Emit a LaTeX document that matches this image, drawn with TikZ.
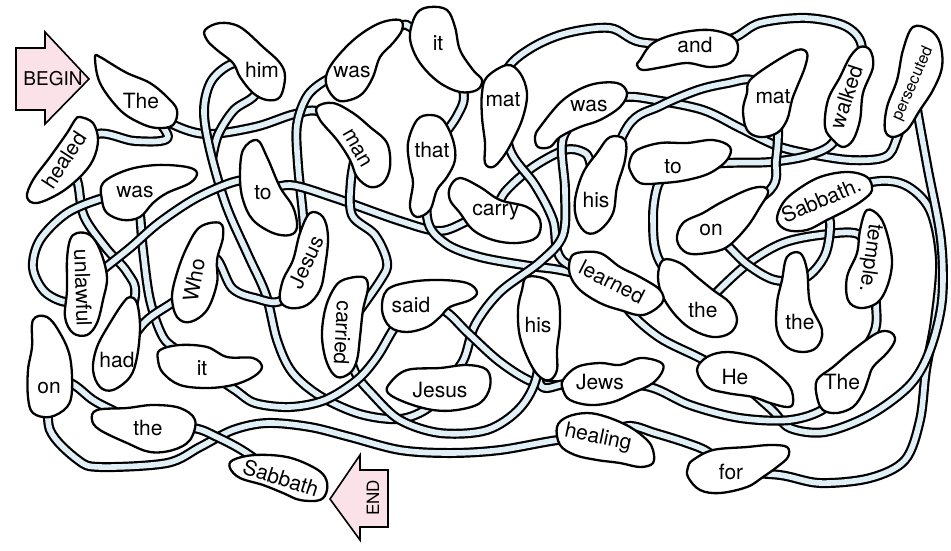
\documentclass[tikz,border=0pt]{standalone}
\usepackage{fontspec}
\setmainfont{TeX Gyre Heros}
\definecolor{tubec}{RGB}{224,240,246}
\definecolor{pinkc}{RGB}{250,226,232}
\pgfdeclarelayer{bgfill}
\pgfdeclarelayer{tubes}
\pgfdeclarelayer{blobs}
\pgfsetlayers{bgfill,tubes,blobs,main}
\tikzset{
  tube/.style={draw=black, line width=10pt, line join=round, postaction={draw=tubec, line width=5.6pt}},
  blob/.style={draw=black, line width=2.3pt, fill=white, line join=round},
  wt/.style={font=\fontsize{21}{24}\selectfont, inner sep=0pt},
  smallwt/.style={font=\fontsize{16}{18}\selectfont, inner sep=0pt},
  arrowbox/.style={draw=black, line width=1.6pt, fill=pinkc, line join=miter},
}
\newcommand{\blobat}[1]{\draw[blob] plot[smooth cycle, tension=0.6] coordinates {#1};}
\newcommand{\tubeat}[1]{\draw[tube] plot[smooth, tension=0.55] coordinates {#1};}
\begin{document}
\begin{tikzpicture}[x=1pt,y=-1pt]
\begin{pgfonlayer}{bgfill}
\fill[white] (0,0) rectangle (951,550);
\end{pgfonlayer}
\useasboundingbox (0,0) rectangle (951,550);

% ---------- word nodes ----------
\node[font=\fontsize{19}{22}\selectfont, inner sep=0pt] (begin) at (53,79) {BEGIN};
\node[font=\fontsize{17}{20}\selectfont, inner sep=0pt, rotate=90] (endw) at (373,498) {END};
\node[wt] (The) at (141,101) {The};
\node[wt] (him) at (262,70) {him};
\node[wt, rotate=57] (healed) at (64,160) {healed};
\node[wt] (wasL) at (135,192) {was};
\node[wt] (toL) at (263,193) {to};
\node[wt, rotate=-88] (unlawful) at (83,288) {unlawful};
\node[wt, rotate=80] (Who) at (194,280) {Who};
\node[wt, rotate=65] (JesusL) at (306,262) {Jesus};
\node[wt] (had) at (117,360) {had};
\node[wt] (onL) at (49,388) {on};
\node[wt] (itL) at (202,368) {it};
\node[wt] (theL) at (148,428) {the};
\node[wt, rotate=-18] (SabbathB) at (281,478) {Sabbath};
\node[wt] (wasT) at (352,72) {was};
\node[wt] (itT) at (438,43) {it};
\node[wt, rotate=-60] (man) at (357,148) {man};
\node[wt] (that) at (432,150) {that};
\node[wt] (matM) at (503,100) {mat};
\node[wt] (wasR) at (589,106) {was};
\node[wt] (carry) at (496,212) {carry};
\node[wt] (hisU) at (596,200) {his};
\node[wt] (and) at (695,45) {and};
\node[wt] (matR) at (773,97) {mat};
\node[wt, rotate=72] (walked) at (846,97) {walked};
\node[smallwt, rotate=66] (persecuted) at (913,84) {persecuted};
\node[wt] (toR) at (673,167) {to};
\node[wt] (onR) at (711,230) {on};
\node[wt, rotate=23] (SabbathR) at (821,200) {Sabbath.};
\node[wt, rotate=-98] (temple) at (870,258) {temple.};
\node[wt] (theR) at (800,322) {the};
\node[wt] (theM) at (703,310) {the};
\node[wt, rotate=-27] (learned) at (612,282) {learned};
\node[wt] (hisL) at (538,325) {his};
\node[wt] (said) at (411,305) {said};
\node[wt, rotate=-93] (carried) at (343,333) {carried};
\node[wt] (JesusB) at (440,390) {Jesus};
\node[wt] (Jews) at (600,382) {Jews};
\node[wt, rotate=-12] (healing) at (598,438) {healing};
\node[wt] (He) at (735,377) {He};
\node[wt] (TheR) at (842,382) {The};
\node[wt] (for) at (731,472) {for};

% ---------- tubes ----------
\begin{pgfonlayer}{tubes}
\tubeat{(healed.center) (97,134) (135,141) (168,137) (The.center)}
\tubeat{(The.center) (168,122) (205,134) (255,127) (295,114) (322,113) (man.center)}
\tubeat{(JesusL.center) (303,215) (298,165) (297,125) (308,95) (330,78) (wasT.center)}
\tubeat{(him.center) (255,95) (234,110) (218,135) (212,160)}
\tubeat{(him.center) (235,63) (212,80) (204,110) (210,150) (226,205) (248,255) (266,295) (277,340) (292,372) (320,396) (360,414) (400,419) (428,408) (JesusB.center)}
\tubeat{(healed.center) (77,180) (84,216) (106,248) (127,272) (135,296) (had.center)}
\tubeat{(wasL.center) (103,198) (67,213) (40,240) (33,268) (45,292) (68,302) (unlawful.center)}
\tubeat{(wasL.center) (140,215) (143,250) (150,300) (163,337) (180,352) (itL.center)}
\tubeat{(toL.center) (243,180) (200,196) (160,222) (130,248) (100,272) (unlawful.center)}
\tubeat{(toL.center) (290,185) (335,198) (400,221) (440,231) (470,220) (carry.center)}
\tubeat{(carry.center) (505,192) (533,167) (565,150) (583,152) (590,162) (hisU.center)}
\tubeat{(Who.center) (176,300) (145,322) (had.center)}
\tubeat{(Who.center) (215,258) (232,288) (255,298) (282,300) (JesusL.center)}
\tubeat{(man.center) (351,180) (352,215) (375,235) (387,262) (380,281) (carried.center)}
\tubeat{(itT.center) (463,90) (457,116) (that.center)}
\tubeat{(wasT.center) (398,28) (412,28) (itT.center)}
\tubeat{(matM.center) (508,68) (533,47) (567,33) (610,28) (640,42) (and.center)}
\tubeat{(and.center) (733,38) (760,23) (807,18) (847,27) (862,50) (walked.center)}
\tubeat{(that.center) (427,217) (445,243) (480,257) (530,266) (560,270) (learned.center)}
\tubeat{(matM.center) (510,150) (535,185) (553,220) (562,260) (learned.center)}
\tubeat{(wasR.center) (563,138) (565,190) (563,235) (540,262) (500,292) (475,325) (463,361) (JesusB.center)}
\tubeat{(wasR.center) (625,97) (655,100) (703,110) (740,128) (775,145) (805,153) (850,160) (885,157) (897,138) (persecuted.center)}
\tubeat{(matR.center) (752,80) (728,83) (698,90) (660,106) (628,126) (hisU.center)}
\tubeat{(walked.center) (835,140) (810,155) (770,162) (725,163) (toR.center)}
\tubeat{(matR.center) (778,127) (776,160) (770,190) (onR.center)}
\tubeat{(toR.center) (658,185) (653,220) (660,262) (theM.center)}
\tubeat{(theM.center) (717,292) (750,262) (783,243) (820,235) (858,234) (temple.center)}
\tubeat{(onR.center) (728,246) (748,265) (775,280) (805,278) (825,255) (830,222) (SabbathR.center)}
\tubeat{(temple.center) (876,305) (873,335) (TheR.center)}
\tubeat{(SabbathR.center) (872,182) (905,185) (930,210) (940,260) (935,320) (926,370) (920,420) (905,460) (870,478) (820,483) (780,475) (for.center)}
\tubeat{(persecuted.center) (918,115) (928,170) (941,240) (942,300) (930,350) (910,385) (870,415) (825,432) (790,428) (772,410) (He.center)}
\tubeat{(learned.center) (630,312) (660,338) (700,358) (He.center)}
\tubeat{(Jews.center) (650,387) (690,405) (740,418) (790,420) (825,408) (TheR.center)}
\tubeat{(said.center) (443,310) (468,333) (500,362) (533,382) (565,385) (Jews.center)}
\tubeat{(hisL.center) (540,384) (565,384) (Jews.center)}
\tubeat{(carried.center) (355,372) (373,395) (400,420) (440,433) (487,430) (520,408) (537,375) (hisL.center)}
\tubeat{(said.center) (393,330) (377,357) (357,380) (325,400) (290,407) (255,403) (235,390) (itL.center)}
\tubeat{(healing.center) (558,440) (500,450) (450,453) (400,450) (350,437) (310,427) (267,423) (233,430) (200,447) (167,463) (100,467) (78,460) (50,430) (onL.center)}
\tubeat{(onL.center) (70,383) (93,400) (112,410) (theL.center)}
\tubeat{(theL.center) (193,428) (217,437) (245,452) (SabbathB.center)}
\tubeat{(healing.center) (628,426) (655,433) (687,443) (708,452) (for.center)}
\end{pgfonlayer}

% ---------- blobs ----------
\begin{pgfonlayer}{blobs}
\draw[arrowbox] (16,48) -- (45,48) -- (45,32) -- (89,79) -- (45,124) -- (45,110) -- (16,110) -- cycle;
\draw[arrowbox] (330,499) -- (360,455) -- (360,470) -- (388,470) -- (388,527) -- (360,527) -- (360,540) -- cycle;
\blobat{(95,57) (100,83) (120,110) (140,123) (157,128) (173,125) (177,110) (167,97) (150,83) (127,73) (110,63) (100,57)}
\blobat{(205,30) (220,23) (240,27) (263,47) (280,63) (285,77) (280,97) (267,100) (253,93) (240,77) (233,63) (217,50) (207,40)}
\blobat{(80,117) (93,123) (98,140) (93,160) (80,177) (60,193) (37,203) (27,197) (33,180) (50,157) (67,133) (75,120)}
\blobat{(103,183) (127,170) (157,165) (187,167) (197,173) (190,183) (167,193) (153,203) (140,217) (123,220) (107,213) (102,200)}
\blobat{(243,150) (257,140) (267,157) (280,187) (293,207) (297,227) (290,235) (273,233) (253,220) (243,200) (240,177)}
\blobat{(77,233) (90,235) (100,250) (107,277) (103,300) (97,323) (87,335) (73,333) (65,317) (67,290) (67,260) (70,240)}
\blobat{(200,227) (220,223) (223,237) (217,260) (217,283) (207,310) (190,322) (177,317) (172,297) (177,273) (187,247)}
\blobat{(310,213) (323,217) (328,237) (325,267) (320,290) (307,305) (290,308) (280,300) (283,280) (293,260) (300,233)}
\blobat{(130,297) (137,303) (140,327) (137,357) (130,377) (113,390) (100,387) (93,370) (97,347) (110,323) (123,303)}
\blobat{(33,320) (47,317) (60,333) (70,357) (72,390) (67,407) (50,417) (33,413) (28,397) (28,370) (32,347)}
\blobat{(160,350) (180,345) (207,347) (227,357) (253,358) (262,367) (253,377) (233,385) (207,388) (180,385) (163,373) (158,360)}
\blobat{(97,410) (127,408) (153,405) (180,408) (195,420) (190,440) (173,450) (150,452) (127,443) (100,430) (92,420)}
\blobat{(233,460) (255,455) (287,457) (313,467) (325,477) (327,490) (320,500) (300,500) (283,493) (263,485) (240,478) (230,468)}
\blobat{(400,20) (402,30) (393,43) (380,57) (373,77) (363,93) (350,100) (337,100) (327,87) (327,73) (337,57) (357,37) (380,23)}
\blobat{(417,13) (430,7) (447,10) (455,27) (460,50) (473,70) (482,80) (477,90) (460,92) (440,83) (423,67) (413,50) (410,33)}
\blobat{(317,107) (333,103) (353,113) (370,127) (387,143) (390,167) (383,183) (370,187) (357,177) (350,160) (337,140) (320,120)}
\blobat{(417,120) (430,115) (443,120) (453,140) (455,160) (447,177) (437,190) (430,210) (417,217) (410,207) (413,183) (410,167) (408,143)}
\blobat{(487,77) (507,65) (520,73) (527,93) (523,117) (513,140) (503,157) (493,167) (485,163) (485,143) (482,117) (482,93)}
\blobat{(540,127) (563,100) (590,85) (617,83) (627,93) (620,107) (600,120) (580,127) (560,137) (550,147) (538,147) (535,137)}
\blobat{(450,187) (460,178) (480,187) (500,200) (527,207) (540,220) (537,237) (517,243) (493,240) (473,230) (460,213) (450,200)}
\blobat{(610,137) (625,140) (625,160) (617,187) (613,213) (600,230) (587,233) (577,220) (575,200) (583,173) (597,153)}
\blobat{(640,60) (653,43) (680,33) (710,30) (733,37) (738,50) (730,63) (710,67) (687,63) (663,67) (643,70) (637,65)}
\blobat{(750,80) (773,63) (797,50) (807,53) (805,67) (797,87) (792,100) (787,120) (777,133) (760,137) (747,130) (743,110) (747,93)}
\blobat{(860,47) (870,50) (873,67) (863,93) (860,120) (853,140) (843,147) (833,140) (825,127) (828,100) (840,77) (850,57)}
\blobat{(913,27) (930,30) (940,43) (942,67) (933,90) (920,110) (907,130) (893,137) (885,130) (887,107) (897,80) (903,50)}
\blobat{(637,150) (660,143) (687,143) (713,140) (730,147) (727,160) (710,173) (687,180) (663,183) (640,183) (630,170) (630,160)}
\blobat{(763,187) (768,193) (760,207) (747,227) (727,247) (707,253) (687,253) (677,240) (683,223) (703,213) (720,203) (747,190)}
\blobat{(797,190) (820,177) (847,172) (867,177) (872,190) (863,200) (847,210) (827,220) (807,230) (787,230) (777,220) (783,203)}
\blobat{(867,210) (880,217) (888,237) (892,263) (887,287) (877,303) (860,308) (848,300) (847,277) (857,253) (860,230)}
\blobat{(787,257) (800,253) (807,270) (810,303) (822,330) (817,347) (803,352) (787,347) (777,330) (777,303) (782,280)}
\blobat{(663,260) (680,263) (697,277) (713,290) (730,303) (737,320) (730,333) (713,337) (693,330) (677,317) (663,297) (658,277)}
\blobat{(577,253) (600,253) (620,267) (640,277) (660,290) (662,303) (643,315) (620,310) (600,303) (580,290) (570,275) (570,260)}
\blobat{(527,277) (547,280) (558,297) (560,323) (557,350) (557,370) (550,380) (540,377) (530,363) (520,337) (518,310) (522,290)}
\blobat{(387,290) (410,282) (440,280) (467,283) (477,292) (470,300) (450,307) (440,317) (427,327) (407,332) (390,327) (382,310)}
\blobat{(343,280) (363,277) (368,287) (363,310) (360,337) (357,360) (350,373) (337,377) (327,363) (322,337) (325,310) (333,290)}
\blobat{(390,383) (407,370) (440,368) (467,365) (487,370) (490,387) (480,403) (457,410) (433,410) (407,403) (388,393)}
\blobat{(563,380) (577,367) (600,363) (620,365) (640,358) (660,362) (663,370) (653,383) (633,393) (613,402) (590,405) (570,400) (563,390)}
\blobat{(557,427) (567,417) (587,413) (607,417) (630,427) (647,440) (653,450) (653,463) (640,467) (620,463) (597,460) (575,455) (560,445)}
\blobat{(697,370) (707,357) (727,352) (753,357) (773,370) (790,387) (793,403) (787,407) (770,403) (753,397) (727,393) (707,387)}
\blobat{(833,367) (853,350) (877,333) (890,332) (895,340) (887,353) (873,367) (868,380) (863,393) (853,407) (837,413) (823,410) (817,397) (817,380)}
\blobat{(693,460) (713,450) (747,447) (770,445) (787,447) (788,457) (777,467) (763,477) (747,487) (720,493) (700,490) (688,477) (688,467)}
\end{pgfonlayer}
\end{tikzpicture}
\end{document}
